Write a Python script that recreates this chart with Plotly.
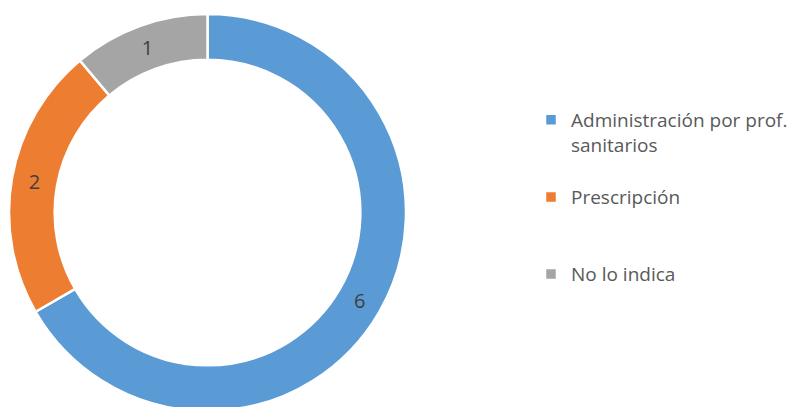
import plotly.graph_objects as go

# Donut data: how the product is dispensed
categories = [
    "Administración por prof.<br>sanitarios<br> ",
    "Prescripción<br> <br> ",
    "No lo indica",
]
counts = [6, 2, 1]
colors = ["#5B9BD5", "#ED7D31", "#A5A5A5"]

W, H = 811, 411
TOP = 14

fig = go.Figure(
    go.Pie(
        labels=categories,
        values=counts,
        text=[str(v) for v in counts],
        textinfo="text",
        textposition="inside",
        insidetextorientation="horizontal",
        textfont=dict(family="Open Sans", size=20, color="#404040"),
        hole=0.77,
        sort=False,
        direction="clockwise",
        rotation=0,
        marker=dict(colors=colors, line=dict(color="#FFFFFF", width=2.5)),
        domain=dict(x=[9 / W, 406 / W], y=[0, 1]),
        hoverinfo="label+value",
    )
)

fig.update_layout(
    width=W,
    height=H,
    margin=dict(l=0, r=0, t=TOP, b=0),
    paper_bgcolor="#FFFFFF",
    plot_bgcolor="#FFFFFF",
    showlegend=True,
    legend=dict(
        x=531 / W,
        xanchor="left",
        y=0.781,
        yanchor="top",
        valign="top",
        font=dict(family="Open Sans", size=19, color="#595959"),
        bgcolor="rgba(0,0,0,0)",
        traceorder="normal",
    ),
)

fig.write_html(
    "out.html",
    post_script=(
        "document.body.style.margin='0';"
        "document.body.style.overflow='hidden';"
        "document.documentElement.style.overflow='hidden';"
    ),
)
